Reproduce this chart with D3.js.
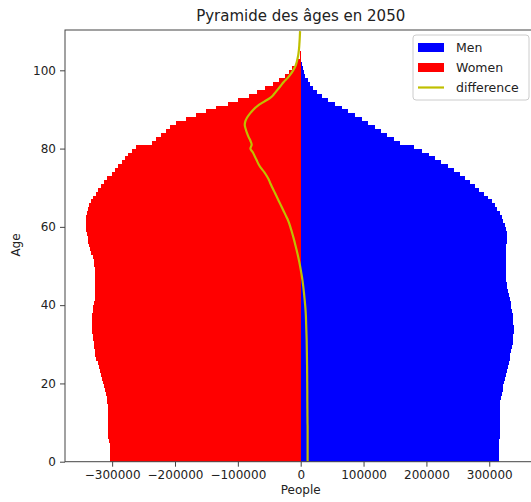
<!DOCTYPE html>
<html>
<head>
<meta charset="utf-8">
<title>Pyramide des âges en 2050</title>
<script src="https://cdn.jsdelivr.net/npm/d3@7"></script>
<style>
  body { margin: 0; background: #fff; }
  text { font-family: "DejaVu Sans", sans-serif; fill: #222; }
  .axis path, .axis line { stroke: #444; }
  .axis text { font-size: 12px; fill: #222; }
</style>
</head>
<body>
<script>
// ages 0..104 for the bars
var ages = [0,1,2,3,4,5,6,7,8,9,10,11,12,13,14,15,16,17,18,19,20,21,22,23,24,25,26,27,28,29,
  30,31,32,33,34,35,36,37,38,39,40,41,42,43,44,45,46,47,48,49,50,51,52,53,54,55,56,57,58,59,
  60,61,62,63,64,65,66,67,68,69,70,71,72,73,74,75,76,77,78,79,80,81,82,83,84,85,86,87,88,89,
  90,91,92,93,94,95,96,97,98,99,100,101,102,103,104];

var men = [315500,315500,315500,315500,315500,316000,317000,317300,317300,317300,
  317300,317300,317300,317300,317300,317500,318500,320000,321500,322500,
  323500,325000,326500,328000,329500,331000,332500,333500,335000,336000,
  337000,338000,338500,338800,338800,338500,338000,337200,336200,335200,
  334000,333000,331500,330200,329000,328000,327000,326300,326000,326000,
  326000,326000,326200,326500,326800,327200,327600,327800,327500,326500,
  324800,322500,320000,317000,313000,309000,304000,298000,291000,284000,
  277000,270000,262000,253000,244000,234000,224000,214000,204000,193000,
  180000,158000,148000,138000,128000,118000,107000,97000,86000,76000,
  65000,54000,44000,34000,26000,20000,15000,11000,7500,5000,
  3500,2000,1000,500,200];

var women = [-303500,-303500,-303500,-303500,-304000,-305500,-306500,-306500,-306500,-306500,
  -306500,-306500,-306500,-306500,-306800,-307500,-308500,-310000,-312000,-313500,
  -315000,-316500,-318000,-320000,-321500,-323000,-325000,-326500,-327500,-328500,
  -329500,-330500,-331200,-331800,-332000,-332000,-331800,-331500,-331000,-330000,
  -329000,-328000,-327500,-327000,-326800,-326600,-326600,-326800,-327000,-327500,
  -328200,-329300,-331000,-333000,-335000,-336500,-338000,-339200,-340300,-341200,
  -341800,-342000,-341500,-340300,-338700,-336500,-333500,-330000,-326000,-322000,
  -318000,-313500,-307500,-301000,-295000,-290300,-285000,-279700,-274400,-269000,
  -262200,-237200,-230400,-222400,-214400,-208000,-198500,-182600,-166700,-150800,
  -134800,-116300,-99300,-81800,-70100,-56300,-44600,-34000,-25000,-18600,
  -13300,-8000,-3700,-1500,-500];

// difference line, ages 0..110
var diffAges = [0,1,2,3,4,5,6,7,8,9,10,11,12,13,14,15,16,17,18,19,20,21,22,23,24,25,26,27,28,29,
  30,31,32,33,34,35,36,37,38,39,40,41,42,43,44,45,46,47,48,49,50,51,52,53,54,55,56,57,58,59,
  60,61,62,63,64,65,66,67,68,69,70,71,72,73,74,75,76,77,78,79,80,81,82,83,84,85,86,87,88,89,
  90,91,92,93,94,95,96,97,98,99,100,101,102,103,104,105,106,107,108,109,110];
var diff = [11000,11000,11000,11000,11000,11000,11000,11000,11000,11000,
  10800,10800,10700,10700,10600,10600,10500,10500,10500,10400,
  10400,10300,10300,10200,10200,10100,10000,9900,9800,9700,
  9600,9500,9300,9100,8900,8700,8500,8300,8000,7600,
  7100,6500,5900,5300,4600,3900,3100,2200,1200,100,
  -1000,-2200,-3500,-4900,-6400,-7900,-9500,-11100,-12800,-14600,
  -16500,-18600,-21000,-24000,-27000,-30000,-33000,-36000,-39000,-42000,
  -45000,-48000,-50500,-54000,-58000,-63000,-67000,-70000,-73000,-76000,
  -80000,-78000,-80000,-83000,-85500,-87500,-89000,-88000,-85000,-80500,
  -75000,-68000,-58000,-48000,-42000,-37000,-32000,-27000,-21000,-16000,
  -12000,-8500,-6500,-5000,-3800,-3000,-2400,-2000,-1600,-1300,-1000];

var xTicks = [-300000,-200000,-100000,0,100000,200000,300000];
var yTicks = [0,20,40,60,80,100];

var width = 531, height = 502;
var plot = {left: 65, right: 536.4, top: 30, bottom: 461.7};

var svg = d3.select("body").append("svg")
  .attr("width", width)
  .attr("height", height);

var x = d3.scaleLinear().domain([-375000, 375000]).range([plot.left, plot.right]);
var y = d3.scaleLinear().domain([0, 110.3]).range([plot.bottom, plot.top]);

svg.append("clipPath").attr("id", "clip")
  .append("rect")
  .attr("x", plot.left).attr("y", plot.top)
  .attr("width", plot.right - plot.left).attr("height", plot.bottom - plot.top);

var g = svg.append("g").attr("clip-path", "url(#clip)");

// men bars
g.selectAll(".men")
  .data(ages)
  .enter().append("rect")
  .attr("class", "men")
  .attr("x", x(0))
  .attr("y", function(d){ return y(d + 1); })
  .attr("width", function(d, i){ return x(men[i]) - x(0); })
  .attr("height", function(d){ return y(d) - y(d + 1) + 1; })
  .attr("fill", "#0000ff")
  .attr("shape-rendering", "crispEdges");

// women bars
g.selectAll(".women")
  .data(ages)
  .enter().append("rect")
  .attr("class", "women")
  .attr("x", function(d, i){ return x(women[i]); })
  .attr("y", function(d){ return y(d + 1); })
  .attr("width", function(d, i){ return x(0) - x(women[i]); })
  .attr("height", function(d){ return y(d) - y(d + 1) + 1; })
  .attr("fill", "#ff0000")
  .attr("shape-rendering", "crispEdges");

// difference line
var line = d3.line()
  .x(function(d, i){ return x(diff[i]); })
  .y(function(d){ return y(d); })
  .curve(d3.curveMonotoneY);
g.append("path")
  .datum(diffAges)
  .attr("d", line)
  .attr("fill", "none")
  .attr("stroke", "#bfbf00")
  .attr("stroke-width", 2.2);

// frame
svg.append("rect")
  .attr("x", plot.left).attr("y", plot.top)
  .attr("width", plot.right - plot.left).attr("height", plot.bottom - plot.top)
  .attr("fill", "none").attr("stroke", "#444").attr("stroke-width", 1);

// axes
var fmt = d3.format("d");
svg.append("g")
  .attr("class", "axis")
  .attr("transform", "translate(0," + plot.bottom + ")")
  .call(d3.axisBottom(x).tickValues(xTicks).tickFormat(fmt).tickSizeOuter(0).tickSize(5).tickPadding(4))
  .call(function(s){ s.select(".domain").remove(); });

svg.append("g")
  .attr("class", "axis")
  .attr("transform", "translate(" + plot.left + ",0)")
  .call(d3.axisLeft(y).tickValues(yTicks).tickSizeOuter(0).tickSize(5).tickPadding(4))
  .call(function(s){ s.select(".domain").remove(); });

// labels
svg.append("text")
  .attr("x", 300.7).attr("y", 21)
  .attr("text-anchor", "middle")
  .attr("font-size", 15)
  .text("Pyramide des âges en 2050");

svg.append("text")
  .attr("x", 300.7).attr("y", 494)
  .attr("text-anchor", "middle")
  .attr("font-size", 12)
  .text("People");

svg.append("text")
  .attr("transform", "translate(20,245) rotate(-90)")
  .attr("text-anchor", "middle")
  .attr("font-size", 12)
  .text("Age");

// legend
var legendItems = [
  {label: "Men", color: "#0000ff", type: "patch"},
  {label: "Women", color: "#ff0000", type: "patch"},
  {label: "difference", color: "#bfbf00", type: "line"}
];
var lg = svg.append("g").attr("transform", "translate(413,35)");
lg.append("rect")
  .attr("width", 116).attr("height", 65).attr("rx", 3)
  .attr("fill", "#fff").attr("fill-opacity", 0.8)
  .attr("stroke", "#ccc");
var item = lg.selectAll(".item")
  .data(legendItems)
  .enter().append("g")
  .attr("transform", function(d, i){ return "translate(5," + (8 + i * 20) + ")"; });
item.filter(function(d){ return d.type == "patch"; })
  .append("rect")
  .attr("width", 26).attr("height", 9)
  .attr("fill", function(d){ return d.color; });
item.filter(function(d){ return d.type == "line"; })
  .append("line")
  .attr("x1", 0).attr("x2", 26).attr("y1", 4.5).attr("y2", 4.5)
  .attr("stroke", function(d){ return d.color; })
  .attr("stroke-width", 2.2);
item.append("text")
  .attr("x", 38).attr("y", 9)
  .attr("font-size", 12.5)
  .text(function(d){ return d.label; });
</script>
</body>
</html>
